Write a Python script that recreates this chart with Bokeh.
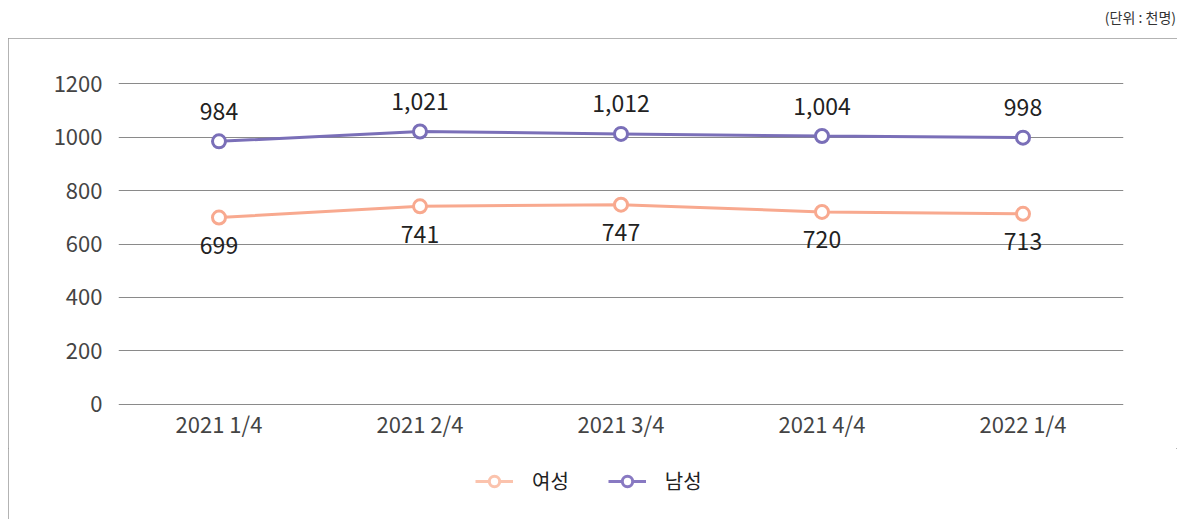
from bokeh.plotting import figure
from bokeh.layouts import column
from bokeh.models import (Range1d, FactorRange, Legend, LegendItem, Div,
                          FixedTicker, ColumnDataSource)
from bokeh.core.properties import value
from bokeh.embed import file_html
from bokeh.resources import INLINE

categories = ["2021 1/4", "2021 2/4", "2021 3/4", "2021 4/4", "2022 1/4"]
female = [699, 741, 747, 720, 713]
male = [984, 1021, 1012, 1004, 998]
y_ticks = [0, 200, 400, 600, 800, 1000, 1200]
unit_text = "(단위 : 천명)"
series_names = ["여성", "남성"]

FONT = "Noto Sans CJK KR"
F_COL = "#f8a98f"
M_COL = "#7a6fb8"
F_LEG = "#fbc3ad"
M_LEG = "#8879c2"

# main figure placed at page x=8, y=38
W, H = 1169, 410
FL, FT, FW, FH = 110, 43, 1005, 325
LH = 72

header = Div(text=unit_text, width=1176, height=38, margin=(0, 0, 0, 0),
             styles={"font-family": FONT, "font-size": "14px", "color": "#333333",
                     "text-align": "right", "line-height": "34px", "width": "1176px"})

p = figure(width=W, height=H, x_range=FactorRange(*categories, range_padding=0),
           y_range=Range1d(-8, 1208), output_backend="svg", toolbar_location=None,
           min_border_left=FL, min_border_right=W - FL - FW,
           min_border_top=FT, min_border_bottom=H - FT - FH, margin=(0, 0, 0, 0))
p.outline_line_color = None
p.background_fill_color = "white"
p.border_fill_color = "white"

p.xgrid.grid_line_color = None
p.ygrid.grid_line_color = "#8a8a8a"
p.ygrid.grid_line_width = 1
p.yaxis.ticker = FixedTicker(ticks=y_ticks)
for ax in (p.xaxis, p.yaxis):
    ax.axis_line_color = None
    ax.major_tick_line_color = None
    ax.minor_tick_line_color = None
    ax.major_label_text_font = FONT
    ax.major_label_text_font_size = "22px"
    ax.major_label_text_color = "#444444"
p.yaxis.major_label_standoff = 10
p.xaxis.major_label_standoff = -6

src_f = ColumnDataSource(dict(x=categories, y=female, t=[f"{v:,}" for v in female]))
src_m = ColumnDataSource(dict(x=categories, y=male, t=[f"{v:,}" for v in male]))

p.line("x", "y", source=src_f, line_color=F_COL, line_width=3)
p.scatter("x", "y", source=src_f, size=13, fill_color="white", line_color=F_COL, line_width=3)
p.line("x", "y", source=src_m, line_color=M_COL, line_width=3)
p.scatter("x", "y", source=src_m, size=13, fill_color="white", line_color=M_COL, line_width=3)

p.text("x", "y", text="t", source=src_m, y_offset=-30, text_align="center",
       text_baseline="middle", text_font=value(FONT), text_font_size="23px", text_color="#222222")
p.text("x", "y", text="t", source=src_f, y_offset=28, text_align="center",
       text_baseline="middle", text_font=value(FONT), text_font_size="23px", text_color="#222222")

# legend figure below the chart (renderers hold NaN so they draw nothing themselves)
lg = figure(width=W, height=LH, x_range=Range1d(0, 1), y_range=Range1d(0, 1),
            output_backend="svg", toolbar_location=None, min_border=0,
            x_axis_location=None, y_axis_location=None, margin=(0, 0, 0, 0))
lg.grid.visible = False
lg.outline_line_color = None
lg.border_fill_color = "white"
nan = [float("nan")]
lf = lg.line(nan, nan, line_color=F_LEG, line_width=3)
cf = lg.scatter(nan, nan, size=14, fill_color="white", line_color=F_LEG, line_width=3)
lm = lg.line(nan, nan, line_color=M_LEG, line_width=3)
cm = lg.scatter(nan, nan, size=14, fill_color="white", line_color=M_LEG, line_width=3)
legend = Legend(items=[LegendItem(label=series_names[0], renderers=[lf, cf]),
                       LegendItem(label=series_names[1], renderers=[lm, cm])],
                orientation="horizontal", location=(357, 25),
                label_text_font=FONT, label_text_font_size="20px", label_text_color="#222222",
                glyph_width=38, glyph_height=26, label_standoff=19, spacing=39,
                label_height=26,
                border_line_alpha=0, background_fill_alpha=0, margin=0, padding=0)
lg.add_layout(legend, "center")

box = column(p, lg, spacing=0, margin=(0, 0, 0, 8),
             styles={"outline": "1px solid #9a9a9a", "outline-offset": "-1px",
                     "clip-path": "inset(0px 0px 1px 0px)"})

open("out.html", "w").write(file_html(column(header, box, spacing=0), INLINE))
